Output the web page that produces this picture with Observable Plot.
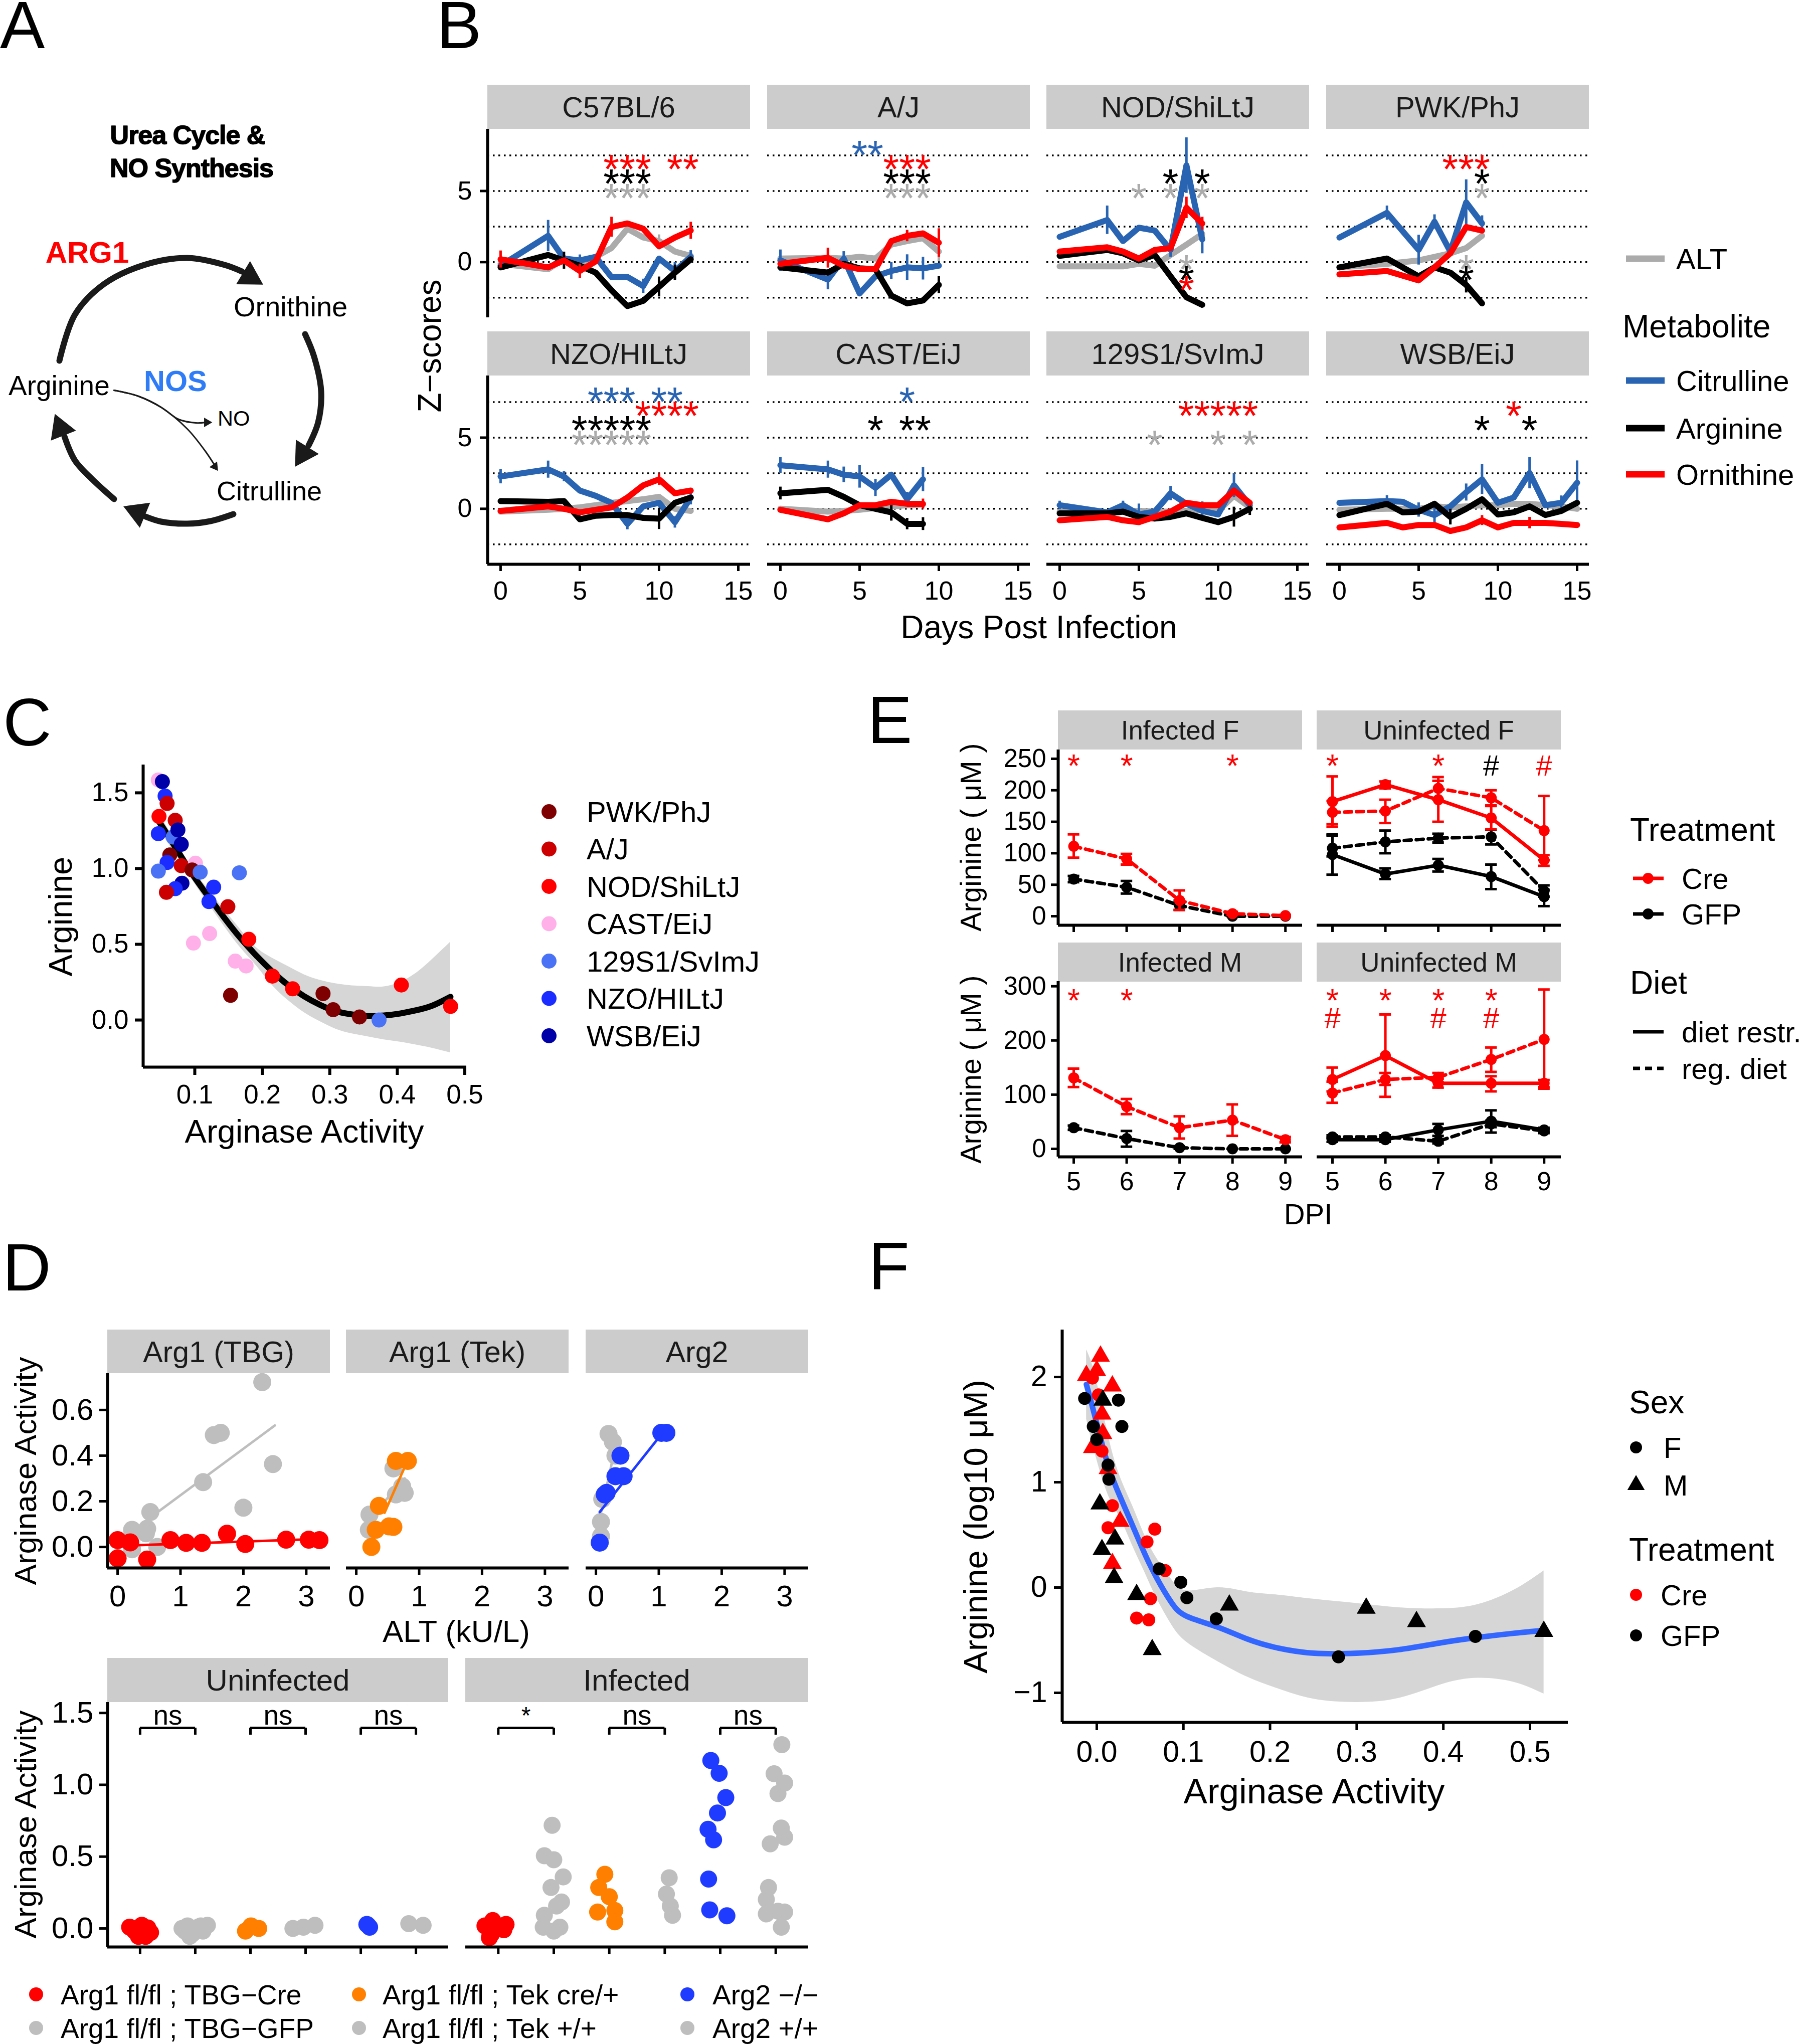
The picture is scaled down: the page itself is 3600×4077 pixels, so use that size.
<!DOCTYPE html>
<html><head><meta charset="utf-8">
<script src="https://cdn.jsdelivr.net/npm/d3@7"></script>
<script src="https://cdn.jsdelivr.net/npm/@observablehq/plot@0.6"></script>
<style>
html,body{margin:0;padding:0;background:#fff;}
#root{position:relative;width:3600px;height:4077px;overflow:hidden;background:#fff;}
#root svg{position:absolute;max-width:none;}
</style></head><body><div id="root"></div>
<script>
const FONT = '"Liberation Sans", Arial, Helvetica, sans-serif';

// ================= Panel A: diagram geometry =================
const aArcs = [
  [[118,719],[149,627],[207,566],[287,528],[373,514],[448,528],[482,541]],
  [[608,666],[626,711],[640,780],[634,842],[615,888]],
  [[465,1025],[419,1039],[373,1044],[321,1040],[290,1030]],
  [[227,995],[184,956],[149,918],[128,870]]
];
const aThin = [
  [[227,778],[276,790],[321,812],[356,836],[390,843],[410,842]],
  [[227,778],[276,790],[321,812],[373,855],[408,898],[428,928]]
];
const aHeadX = [497.7,604.3,274.3,120.3], aHeadY = [551.3,904,1021.3,854], aHeadRot = [121,212,-67.5,-21.6];
const aSmallX = [412,428], aSmallY = [842,930], aSmallRot = [90,144];

// ================= Panel B data =================
const bStrains = ["C57BL/6","A/J","NOD/ShiLtJ","PWK/PhJ","NZO/HILtJ","CAST/EiJ","129S1/SvImJ","WSB/EiJ"];
const bDays = [
  [0,3,4,5,6,7,8,9,10,11,12],
  [0,3,4,5,6,7,8,9,10],
  [0,3,4,5,6,7,8,9],
  [0,3,5,6,7,8,9],
  [0,3,4,5,6,7,8,9,10,11,12],
  [0,3,4,5,6,7,8,9],
  [0,3,4,5,6,7,8,9,10,11,12],
  [0,3,4,5,6,7,8,9,10,11,12,13,14,15]
];
const bCitrulline = [
  [-0.25,1.85,0.25,0.12,0.37,-1.06,-1.04,-1.68,0.25,-0.62,0.37],
  [0.12,-1.23,0.25,-2.2,-1.0,-0.62,-0.37,-0.44,-0.25],
  [1.78,2.96,1.48,2.42,2.22,0.86,6.8,1.6],
  [1.73,3.46,0.86,2.84,0.74,4.2,2.72],
  [2.27,2.77,2.27,1.28,0.91,0.42,-1.06,0.17,0.42,-0.94,0.79],
  [3.06,2.77,2.4,2.27,1.48,2.4,0.67,2.07],
  [0.25,-0.25,0.25,-0.4,-0.2,1.09,0.35,-0.15,-0.4,1.65,0.25],
  [0.42,0.54,0.49,-0.07,-0.44,0.17,1.16,2.07,0.42,0.79,2.52,0.25,0.42,1.83]
];
const bArginine = [
  [-0.37,0.5,0.12,-0.25,-0.74,-1.98,-3.09,-2.72,-1.73,-0.74,0.2],
  [-0.37,-0.74,-0.12,-0.44,-0.5,-2.35,-2.9,-2.7,-1.6],
  [0.44,0.86,0.62,0.12,0.5,-1.0,-2.47,-3.0],
  [-0.37,0.25,-1.0,-0.37,-0.74,-1.6,-2.9],
  [0.54,0.49,0.54,-0.74,-0.49,-0.44,-0.44,-0.64,-0.69,0.42,0.79],
  [1.09,1.33,0.84,0.25,0,-0.25,-1.06,-1.06],
  [-0.32,-0.32,-0.2,-0.57,-0.69,-0.57,-0.32,-0.64,-0.94,-0.57,0],
  [-0.44,0.35,-0.25,-0.2,0.35,-0.57,0,0.67,-0.4,-0.25,0.17,-0.44,-0.15,0.42]
];
const bOrnithine = [
  [0.2,-0.37,0.12,-0.62,0.05,2.47,2.72,2.35,1.11,1.73,2.22],
  [-0.12,0.3,-0.25,-0.5,-0.5,1.48,1.85,2.02,1.36],
  [0.74,1.04,0.74,0.25,0.86,0.99,3.83,2.72],
  [-0.86,-0.62,-1.28,-0.37,0.62,2.47,2.22],
  [-0.15,0.17,0,-0.25,-0.07,0.1,0.79,1.65,2.07,1.09,1.28],
  [-0.07,-0.74,-0.32,0.25,0.25,0.49,0.35,0.35],
  [-0.81,-0.57,-0.81,-0.94,-0.57,-0.2,0.42,0.25,0.25,1.28,0.42],
  [-1.31,-0.99,-1.31,-1.14,-1.14,-1.56,-1.31,-0.81,-1.31,-0.99,-0.99,-0.99,-1.06,-1.14]
];
const bALT = [
  [-0.12,-0.5,0.25,-0.12,0.37,0.99,2.35,1.73,1.48,0.74,0.44],
  [0.25,0.3,0.25,0.37,0.25,1.23,1.48,1.68,0.74],
  [-0.3,-0.3,-0.3,-0.12,-0.25,0.5,1.23,1.98],
  [-0.37,-0.12,0.12,0.37,0.62,0.99,1.85],
  [-0.2,-0.07,0,0.1,0.25,0.42,0.54,0.67,0.84,0,-0.15],
  [0,-0.2,-0.15,-0.07,0.05,0.17,0.25,0.3],
  [-0.2,-0.32,-0.2,-0.15,-0.2,-0.2,-0.15,-0.07,-0.15,0.91,0.1],
  [-0.07,0,0,0,0.17,0.1,0.17,0.25,0.25,0.35,0.35,0.25,0.17,0]
];
// [strain, metabolite, day, half error]
const bErrors = [
  [0,"Citrulline",3,1.1],[0,"Ornithine",0,0.6],[0,"Ornithine",5,0.5],[0,"Citrulline",5,0.4],[0,"Ornithine",7,0.7],[0,"Citrulline",9,0.5],[0,"Arginine",10,0.7],[0,"Arginine",11,0.55],[0,"Citrulline",11,0.6],[0,"Ornithine",12,0.6],[0,"Citrulline",12,0.45],[0,"ALT",10,0.45],[0,"Arginine",4,0.6],
  [1,"Citrulline",0,0.75],[1,"Ornithine",3,0.7],[1,"Citrulline",3,0.7],[1,"Citrulline",4,0.5],[1,"Citrulline",7,0.6],[1,"Citrulline",8,0.9],[1,"Citrulline",9,0.8],[1,"Ornithine",10,1.0],[1,"Arginine",10,0.6],[1,"ALT",10,0.7],[1,"Ornithine",8,0.4],
  [2,"Citrulline",3,1.0],[2,"Citrulline",8,1.95],[2,"Citrulline",9,1.0],[2,"Ornithine",8,0.75],[2,"Ornithine",9,0.45],[2,"Citrulline",7,0.5],
  [3,"Citrulline",3,0.5],[3,"Citrulline",5,1.05],[3,"Citrulline",6,0.5],[3,"Citrulline",8,1.6],[3,"Citrulline",9,0.55],[3,"Arginine",8,0.55],
  [4,"Citrulline",3,0.6],[4,"Citrulline",0,0.5],[4,"Citrulline",4,0.35],[4,"Arginine",10,0.75],[4,"Citrulline",8,0.4],[4,"Citrulline",11,0.4],[4,"Ornithine",10,0.4],[4,"Citrulline",12,0.5],
  [5,"Citrulline",0,0.55],[5,"Arginine",0,0.45],[5,"Citrulline",3,0.6],[5,"Citrulline",4,0.55],[5,"Citrulline",5,0.8],[5,"Citrulline",6,0.6],[5,"Arginine",7,0.6],[5,"Arginine",8,0.4],[5,"Arginine",9,0.45],[5,"Citrulline",9,0.85],[5,"Citrulline",8,0.5],[5,"Ornithine",9,0.35],
  [6,"Citrulline",0,0.3],[6,"Citrulline",4,0.3],[6,"Citrulline",5,0.75],[6,"Citrulline",7,0.5],[6,"Citrulline",9,0.65],[6,"Citrulline",11,0.85],[6,"Arginine",11,0.7],[6,"Arginine",12,0.45],
  [7,"Citrulline",3,0.4],[7,"Citrulline",5,0.5],[7,"Citrulline",6,0.7],[7,"Arginine",7,0.55],[7,"Citrulline",8,0.6],[7,"Citrulline",9,1.05],[7,"Citrulline",12,1.1],[7,"Citrulline",14,0.5],[7,"Citrulline",15,1.55],[7,"Ornithine",9,0.35],[7,"Ornithine",12,0.4]
];
// significance stars: [strain, row, days]
const bStars = [
  [0,"Ornithine",[7,8,9,11,12]],[0,"Arginine",[7,8,9]],[0,"ALT",[7,8,9]],
  [1,"Citrulline",[5,6]],[1,"Ornithine",[7,8,9]],[1,"Arginine",[7,8,9]],[1,"ALT",[7,8,9]],
  [2,"Arginine",[7,9]],[2,"ALT",[5,7,9]],[2,"ALT low",[8]],[2,"Arginine low",[8]],[2,"Ornithine low",[8]],
  [3,"Ornithine",[7,8,9]],[3,"Arginine",[9]],[3,"ALT",[9]],[3,"ALT low",[8]],[3,"Arginine low",[8]],
  [4,"Citrulline",[6,7,8,10,11]],[4,"Ornithine",[9,10,11,12]],[4,"Arginine",[5,6,7,8,9]],[4,"ALT",[5,6,7,8,9]],
  [5,"Citrulline",[8]],[5,"Arginine",[6,8,9]],
  [6,"Ornithine",[8,9,10,11,12]],[6,"ALT",[6,10,12]],
  [7,"Ornithine",[11]],[7,"Arginine",[9,12]]
];
const bStarLevel = {"Citrulline":8.2,"Ornithine":7.22,"Arginine":6.2,"ALT":5.18,"ALT low":0.17,"Arginine low":-0.57,"Ornithine low":-1.27};
const bGrid = [-2.5,0,2.5,5,7.5];
const bMetabolites = ["ALT","Citrulline","Arginine","Ornithine"];
const bColors = {ALT:"#ababab",Citrulline:"#2964b2",Arginine:"#000000",Ornithine:"#ff0000"};

// ================= Panel C data =================
const cStrainNames = ["PWK/PhJ","A/J","NOD/ShiLtJ","CAST/EiJ","129S1/SvImJ","NZO/HILtJ","WSB/EiJ"];
const cStrainColors = ["#7f0000","#cc0000","#ff0000","#ffb0e8","#4a72f5","#1a2cff","#0000a8"];
const cStrain = ["CAST/EiJ","WSB/EiJ","NZO/HILtJ","A/J","NOD/ShiLtJ","A/J","NZO/HILtJ","129S1/SvImJ","WSB/EiJ","WSB/EiJ","PWK/PhJ","NZO/HILtJ","A/J","129S1/SvImJ","CAST/EiJ","PWK/PhJ","129S1/SvImJ","WSB/EiJ","NZO/HILtJ","A/J","NZO/HILtJ","NZO/HILtJ","129S1/SvImJ","A/J","NOD/ShiLtJ","CAST/EiJ","CAST/EiJ","CAST/EiJ","CAST/EiJ","PWK/PhJ","NOD/ShiLtJ","NOD/ShiLtJ","PWK/PhJ","PWK/PhJ","PWK/PhJ","129S1/SvImJ","NOD/ShiLtJ","NOD/ShiLtJ"];
const cArginase = [0.046,0.052,0.056,0.059,0.047,0.071,0.046,0.068,0.075,0.080,0.063,0.059,0.080,0.046,0.101,0.096,0.108,0.081,0.071,0.058,0.128,0.121,0.166,0.149,0.180,0.122,0.098,0.160,0.176,0.153,0.215,0.245,0.290,0.305,0.344,0.373,0.406,0.479];
const cArginine = [1.585,1.574,1.479,1.430,1.344,1.318,1.230,1.208,1.255,1.160,1.090,1.040,1.019,0.983,1.035,0.991,0.976,0.903,0.867,0.843,0.877,0.782,0.972,0.748,0.533,0.571,0.508,0.389,0.357,0.163,0.290,0.206,0.174,0.068,0.020,0.0,0.231,0.090];
const cFitX = [0.0463,0.0676,0.096,0.1197,0.1434,0.1671,0.1908,0.2145,0.2382,0.2619,0.2856,0.3093,0.333,0.3566,0.3803,0.404,0.4277,0.4514,0.4788];
const cFitY = [1.314,1.167,0.966,0.818,0.677,0.544,0.427,0.322,0.231,0.157,0.100,0.058,0.037,0.026,0.030,0.043,0.064,0.094,0.153];
const cFitLo = [1.26,1.12,0.925,0.77,0.62,0.48,0.36,0.23,0.13,0.05,-0.01,-0.06,-0.09,-0.11,-0.13,-0.145,-0.164,-0.185,-0.216];
const cFitHi = [1.37,1.21,1.005,0.865,0.73,0.60,0.48,0.41,0.354,0.30,0.263,0.24,0.227,0.222,0.22,0.25,0.31,0.40,0.516];

// ================= Panel D data =================
const dTopPanels = ["Arg1 (TBG)","Arg1 (Tek)","Arg2"];
const dKoColors = ["#ff0000","#ff7f00","#1f3bff"];
const dWtColor = "#bebebe";
const dTopKoALT = [[0,0,0.47,0.2,0.84,1.09,1.34,1.74,2.03,2.68,3.04,3.21],[0.63,0.82,0.36,0.31,0.59,0.24,0.52],[1.04,1.12,0.39,0.31,0.44,0.17,0.14,0.06]];
const dTopKoAct = [[0.03,-0.05,-0.055,0.02,0.03,0.018,0.018,0.058,0.013,0.032,0.032,0.03],[0.377,0.377,0.18,0.075,0.088,0.0,0.09],[0.50,0.50,0.40,0.31,0.31,0.237,0.23,0.019]];
const dTopWtALT = [[2.30,1.53,1.64,2.47,1.36,2.0,0.52,0.23,0.47,0.45,0.23,0.63],[0.21,0.2,0.59,0.73,0.77,0.63],[0.2,0.27,0.31,0.1,0.08,0.08]];
const dTopWtAct = [[0.722,0.49,0.50,0.363,0.284,0.172,0.153,0.075,0.08,0.06,-0.01,0.0],[0.142,0.075,0.344,0.265,0.237,0.23],[0.495,0.46,0.40,0.21,0.11,0.047]];
const dKoFitX = [[0,3.21],[0.45,0.77],[0.06,1.06]], dKoFitY = [[0.005,0.035],[0.15,0.35],[0.153,0.50]];
const dWtFitX = [[0.53,2.5],[0.2,0.77],[0.08,0.31]], dWtFitY = [[0.131,0.532],[0.12,0.3],[0.15,0.44]];
const dBotPanels = ["Uninfected","Infected"];
const dCatColors = ["#ff0000","#bebebe","#ff7f00","#bebebe","#1f3bff","#bebebe"];
const dBotPos = [
  [0.81,0.90,1.03,1.14,1.10,0.97,0.86,1.19, 1.76,1.86,1.95,2.05,2.14,2.22,1.90,2.10,1.81, 2.91,3.01,3.15, 3.77,3.96,4.17, 5.11,5.16,5.13, 5.87,6.13],
  [0.84,0.90,1.14,0.76,1.0,0.88,1.10, 1.97,1.83,2.0,2.17,1.95,2.14,2.05,1.83,1.81,2.11,2.0, 2.92,2.81,3.0,2.79,3.10,3.10, 4.08,4.03,4.10,4.14, 4.83,4.98,5.10,4.95,4.78,4.88,4.79,4.81,5.12, 6.11,5.97,6.16,6.04,6.10,6.16,5.90,5.87,5.83,6.04,5.83,6.16,6.10]
];
const dBotAct = [
  [0.009,-0.018,0.022,0.004,-0.055,-0.055,0,-0.028, 0,0.018,-0.037,0.009,-0.018,0.022,-0.055,0.018,-0.018, -0.018,0.018,0, 0,0.009,0.022, 0.028,0.009,0.022, 0.033,0.022],
  [-0.064,0.055,0.028,0.018,0,-0.037,-0.009, 0.718,0.506,0.478,0.359,0.285,0.184,0.156,0.092,0.009,0.009,-0.018, 0.377,0.285,0.221,0.114,0.125,0.046, 0.353,0.239,0.156,0.092, 1.169,1.080,0.911,0.804,0.69,0.617,0.344,0.129,0.088, 1.279,1.077,1.012,0.939,0.699,0.635,0.589,0.285,0.202,0.12,0.101,0.114,0.009]
];
const dPairs = [[1,2],[3,4],[5,6]];
const dSignif = [["ns","ns","ns"],["*","ns","ns"]];
const dLegendLabels = ["Arg1 fl/fl ; TBG\u2212Cre","Arg1 fl/fl ; TBG\u2212GFP","Arg1 fl/fl ; Tek cre/+","Arg1 fl/fl ; Tek +/+","Arg2 \u2212/\u2212","Arg2 +/+"];

// ================= Panel E data =================
const eDPI = [5,6,7,8,9];
const ePanels = ["Infected F","Uninfected F","Infected M","Uninfected M"];
const eSeriesPanel = [0,0, 1,1,1,1, 2,2, 3,3,3,3];
const eSeriesTreat = ["GFP","Cre","GFP","GFP","Cre","Cre","GFP","Cre","GFP","GFP","Cre","Cre"];
const eSeriesDiet = ["reg","reg","restr","reg","restr","reg","reg","reg","restr","reg","restr","reg"];
const eSeriesMean = [
  [59,46,17,0,0],[111,91,25,4,1],
  [98,67,81,63,31],[108,118,124,126,40],[182,209,185,156,89],[165,167,203,188,136],
  [39,19,2,0,0],[131,78,39,53,17],
  [17,17,35,51,35],[22,22,14,46,33],[128,172,121,121,121],[103,128,132,165,202]
];
const eSeriesLo = [
  [54,36,10,0,0],[93,82,10,2,0],
  [66,59,71,43,16],[95,100,117,114,31],[142,203,150,138,80],[146,148,185,176,89],
  [35,4,0,0,0],[114,64,19,24,12],
  [13,13,24,30,31],[19,19,10,40,29],[106,96,113,106,111],[85,118,123,142,114]
];
const eSeriesHi = [
  [64,56,25,1,1],[130,99,41,7,2],
  [130,76,91,82,42],[128,136,131,137,49],[222,214,215,175,97],[183,185,221,200,191],
  [43,33,5,0,0],[148,92,60,82,22],
  [21,21,46,71,39],[25,25,18,52,37],[150,248,129,134,127],[124,140,140,187,294]
];
// [panel, symbol, colour, dpi]
const eAnnot = [
  [0,"*","#ff0000",[5,6,8]],[1,"*","#ff0000",[5,7]],[1,"#","#000000",[8]],[1,"#","#ff0000",[9]],
  [2,"*","#ff0000",[5,6]],[3,"*","#ff0000",[5,6,7,8]],[3,"#","#ff0000",[5,7,8]]
];
const eAnnotLevel = [{"*":250,"#":238},{"*":287,"#":240}];

// ================= Panel F data =================
const fActivity = [-0.014,0.025,-0.004,0.029,0,0.013,0.014,0.072,0.097,0.104,0.138,0.279,0.437,
  0.007,0.0036,0.021,0.006,0.02,0.046,0.153,0.064,0.311,0.369,0.516,
  0.0043,-0.012,0.018,0.006,0.007,-0.005,0.013,0.027,0.018,0.0,
  -0.005,0.002,0.006,0.018,0.013,0.067,0.058,0.079,0.062,0.046,0.06];
const fArginine = [1.796,1.780,1.530,1.530,1.406,1.163,1.029,0.177,0.05,-0.097,-0.297,-0.658,-0.464,
  1.78,0.794,0.46,0.36,0.093,-0.067,-0.167,-0.59,-0.197,-0.324,-0.417,
  2.198,2.014,1.914,1.647,1.463,1.329,1.129,0.628,0.227,2.06,
  1.99,1.83,1.296,0.778,0.568,0.555,0.434,0.161,-0.106,-0.29,-0.307];
const fSex = ["F","F","F","F","F","F","F","F","F","F","F","F","F",
  "M","M","M","M","M","M","M","M","M","M","M",
  "M","M","M","M","M","M","M","M","M","M",
  "F","F","F","F","F","F","F","F","F","F","F"];
const fTreatment = ["GFP","GFP","GFP","GFP","GFP","GFP","GFP","GFP","GFP","GFP","GFP","GFP","GFP",
  "GFP","GFP","GFP","GFP","GFP","GFP","GFP","GFP","GFP","GFP","GFP",
  "Cre","Cre","Cre","Cre","Cre","Cre","Cre","Cre","Cre","Cre",
  "Cre","Cre","Cre","Cre","Cre","Cre","Cre","Cre","Cre","Cre","Cre"];
const fFitX = [-0.012,-0.0013,0.013,0.027,0.041,0.055,0.069,0.086,0.104,0.139,0.174,0.209,0.251,0.30,0.349,0.398,0.44,0.482,0.516];
const fFitY = [1.93,1.6,1.163,0.862,0.595,0.328,0.094,-0.14,-0.274,-0.374,-0.49,-0.574,-0.624,-0.624,-0.59,-0.524,-0.474,-0.434,-0.407];
const fFitHi = [2.26,2.0,1.45,1.05,0.78,0.5,0.28,0.08,-0.03,0.0,-0.04,-0.07,-0.11,-0.15,-0.19,-0.2,-0.16,-0.02,0.16];
const fFitLo = [1.6,1.25,0.88,0.66,0.4,0.15,-0.1,-0.35,-0.52,-0.7,-0.85,-0.96,-1.06,-1.09,-1.05,-0.92,-0.86,-0.9,-1.01];

// ================= helpers =================
const root = document.getElementById("root");
const ov = d3.select(root).append("svg").attr("width",3600).attr("height",4077)
  .style("left","0px").style("top","0px").attr("font-family",FONT);
function T(str, x, y, size, o = {}) {
  const t = ov.append("text").text(str).attr("font-size", size).attr("fill", o.fill || "#000")
    .attr("text-anchor", o.anchor || "start").attr("font-weight", o.weight || "normal");
  if (o.ls) t.attr("letter-spacing", o.ls);
  if (o.stroke) t.attr("stroke", o.fill || "#000").attr("stroke-width", o.stroke).attr("stroke-linejoin", "round");
  const yy = o.baseline ? y : y + 0.358 * size;
  if (o.rotate) t.attr("text-anchor","middle").attr("transform", `translate(${x + 0.358*size},${y}) rotate(-90)`);
  else t.attr("x", x).attr("y", yy);
  return t;
}
function strip(label, x, y, w, h, size) {
  ov.append("rect").attr("x",x).attr("y",y).attr("width",w).attr("height",h).attr("fill","#cccccc");
  T(label, x + w/2, y + h/2, size, {anchor:"middle", fill:"#1a1a1a"});
}
function runs(days) { // group consecutive days into runs
  const out = []; let cur = [days[0]];
  for (let k = 1; k < days.length; k++) {
    if (days[k] - days[k-1] === 1) cur.push(days[k]); else { out.push(cur); cur = [days[k]]; }
  }
  out.push(cur); return out;
}
const M = 120;
function put(fx, fy, fw, fh, opts) {
  const svg = Plot.plot({
    width: fw + 2*M, height: fh + 2*M, margin: M,
    style: {fontFamily: FONT, background: "transparent", overflow: "visible", color: "#000"},
    ...opts
  });
  svg.style.left = (fx - M) + "px"; svg.style.top = (fy - M) + "px";
  root.appendChild(svg);
  return svg;
}

// ================= Panel A =================
{
  const arcs = aArcs.flatMap((a, i) => a.map(p => ({id: i, x: p[0], y: p[1]})));
  const thin = aThin.flatMap((a, i) => a.map(p => ({id: i, x: p[0], y: p[1]})));
  const heads = aHeadX.map((x, i) => ({x, y: aHeadY[i], a: aHeadRot[i]}));
  const small = aSmallX.map((x, i) => ({x, y: aSmallY[i], a: aSmallRot[i]}));
  const svg = Plot.plot({
    width: 900, height: 1250, margin: 0,
    x: {type: "identity", axis: null}, y: {type: "identity", axis: null},
    style: {background: "transparent", overflow: "visible"},
    marks: [
      Plot.line(arcs, {x: "x", y: "y", z: "id", curve: "catmull-rom", stroke: "#1a1a1a", strokeWidth: 12, strokeLinecap: "round"}),
      Plot.line(thin, {x: "x", y: "y", z: "id", curve: "catmull-rom", stroke: "#1a1a1a", strokeWidth: 3}),
      Plot.dot(heads, {x: "x", y: "y", rotate: "a", symbol: "triangle", r: 20, fill: "#1a1a1a", stroke: "none"}),
      Plot.dot(small, {x: "x", y: "y", rotate: "a", symbol: "triangle", r: 7, fill: "#1a1a1a", stroke: "none"})
    ]
  });
  svg.style.left = "0px"; svg.style.top = "0px";
  root.appendChild(svg);
  T("Urea Cycle &", 374, 287, 52, {anchor:"middle", weight:"bold", baseline:true, ls:-1, stroke:1.6});
  T("NO Synthesis", 382, 353, 52, {anchor:"middle", weight:"bold", baseline:true, ls:-1, stroke:1.6});
  T("ARG1", 174, 524, 60, {anchor:"middle", weight:"bold", fill:"#ff0000", baseline:true});
  T("Ornithine", 466, 631, 56, {baseline:true});
  T("Arginine", 17, 788, 55, {baseline:true});
  T("NOS", 287, 780, 58, {weight:"bold", fill:"#2e7cf6", baseline:true});
  T("NO", 434, 849, 43, {baseline:true});
  T("Citrulline", 432, 998, 54, {baseline:true});
}

// ================= Panel B =================
{
  const colX = [972, 1530, 2087, 2645], rowY = [257, 749], W = 524, H = 376;
  const xDom = [-0.82, 15.76], yDom = [-3.9, 9.35];
  const pxPerDay = W / (xDom[1] - xDom[0]);
  const starSize = 82, starLS = pxPerDay - 0.389 * starSize;
  const series = {ALT: bALT, Citrulline: bCitrulline, Arginine: bArginine, Ornithine: bOrnithine};
  bStrains.forEach((s, i) => {
    const col = i % 4, row = Math.floor(i / 4);
    strip(s, colX[col], row === 0 ? 169 : 661, W, 88, 58);
    const marks = [Plot.ruleY(bGrid, {stroke: "#000", strokeWidth: 3.5, strokeDasharray: "3.5,7.5"})];
    for (const m of bMetabolites) {
      const pts = bDays[i].map((d, k) => ({day: d, z: series[m][i][k]}));
      marks.push(Plot.line(pts, {x: "day", y: "z", stroke: bColors[m], strokeWidth: 12, strokeLinejoin: "round"}));
      const errs = bErrors.filter(e => e[0] === i && e[1] === m).map(e => {
        const k = bDays[i].indexOf(e[2]); const v = series[m][i][k];
        return {day: e[2], lo: v - e[3], hi: v + e[3]};
      });
      marks.push(Plot.ruleX(errs, {x: "day", y1: "lo", y2: "hi", stroke: bColors[m], strokeWidth: 5}));
    }
    const stars = bStars.filter(t => t[0] === i).flatMap(t => runs(t[2]).map(r => ({
      day: (r[0] + r[r.length - 1]) / 2, y: bStarLevel[t[1]], c: bColors[t[1].split(" ")[0]], s: "*".repeat(r.length)
    })));
    marks.push(Plot.text(stars, {x: "day", y: "y", text: "s", fill: "c", fontSize: starSize, dy: 0.255 * starSize, dx: starLS / 2, ariaLabel: "stars"}));
    const opts = {x: {domain: xDom, label: null}, y: {domain: yDom, label: null}, color: {type: "identity"}};
    if (col === 0) {
      marks.push(Plot.ruleX([xDom[0]], {stroke: "#000", strokeWidth: 6}));
      marks.push(Plot.axisY({ticks: [0, 5], tickSize: 15, tickPadding: 16, fontSize: 52, strokeWidth: 5, label: null}));
    } else opts.y.axis = null;
    if (row === 1) {
      marks.push(Plot.ruleY([yDom[0]], {stroke: "#000", strokeWidth: 6}));
      marks.push(Plot.axisX({ticks: [0, 5, 10, 15], tickSize: 14, tickPadding: 20, fontSize: 52, strokeWidth: 5, label: null}));
    } else opts.x.axis = null;
    const svg = put(colX[col], rowY[row], W, H, {...opts, marks});
    d3.select(svg).selectAll('g[aria-label="stars"] text').attr("letter-spacing", starLS);
  });
  T("Z\u2212scores", 856, 690, 64, {rotate: true});
  T("Days Post Infection", 2072, 1250, 64, {anchor: "middle"});
  // legend
  ov.append("line").attr("x1",3243).attr("x2",3320).attr("y1",516).attr("y2",516).attr("stroke",bColors.ALT).attr("stroke-width",13);
  T("ALT", 3343, 516, 58);
  T("Metabolite", 3236, 650, 64);
  [["Citrulline",759],["Arginine",854],["Ornithine",946]].forEach(([m, y]) => {
    ov.append("line").attr("x1",3243).attr("x2",3320).attr("y1",y).attr("y2",y).attr("stroke",bColors[m]).attr("stroke-width",13);
    T(m, 3343, y, 58);
  });
}

// ================= Panel C =================
{
  const xDom = [0.0235, 0.5026], yDom = [-0.311, 1.685];
  const pts = cArginase.map((x, i) => ({x, y: cArginine[i], c: cStrainColors[cStrainNames.indexOf(cStrain[i])]}));
  const fit = cFitX.map((x, i) => ({x, y: cFitY[i], lo: cFitLo[i], hi: cFitHi[i]}));
  put(285, 1525, 645, 603, {
    x: {domain: xDom, label: null}, y: {domain: yDom, label: null}, color: {type: "identity"},
    marks: [
      Plot.areaY(fit, {x: "x", y1: "lo", y2: "hi", fill: "#d6d6d6", curve: "natural"}),
      Plot.line(fit, {x: "x", y: "y", stroke: "#000", strokeWidth: 12, curve: "natural"}),
      Plot.dot(pts, {x: "x", y: "y", r: 15, fill: "c"}),
      Plot.ruleX([xDom[0]], {stroke: "#000", strokeWidth: 6}),
      Plot.ruleY([yDom[0]], {stroke: "#000", strokeWidth: 6}),
      Plot.axisX({ticks: [0.1,0.2,0.3,0.4,0.5], tickFormat: ".1f", tickSize: 16, tickPadding: 19, fontSize: 53, strokeWidth: 6, label: null}),
      Plot.axisY({ticks: [0,0.5,1,1.5], tickFormat: ".1f", tickSize: 16, tickPadding: 13, fontSize: 53, strokeWidth: 6, label: null})
    ]
  });
  T("Arginine", 120, 1828, 65, {rotate: true});
  T("Arginase Activity", 607, 2256, 65, {anchor: "middle"});
  cStrainNames.forEach((s, i) => {
    const y = 1619 + i * 74.5;
    ov.append("circle").attr("cx",1095).attr("cy",y).attr("r",15).attr("fill",cStrainColors[i]);
    T(s, 1170, y, 58);
  });
}

// ================= Panel D =================
{
  const topX = [214, 690, 1168], W = 444, topY = 2739, H = 388;
  const xDom = [-0.16, 3.38], yDom = [-0.092, 0.76];
  dTopPanels.forEach((p, i) => {
    strip(p, topX[i], 2652, W, 87, 59);
    const wt = dTopWtALT[i].map((x, k) => ({x, y: dTopWtAct[i][k]}));
    const ko = dTopKoALT[i].map((x, k) => ({x, y: dTopKoAct[i][k]}));
    const wtFit = dWtFitX[i].map((x, k) => ({x, y: dWtFitY[i][k]}));
    const koFit = dKoFitX[i].map((x, k) => ({x, y: dKoFitY[i][k]}));
    const marks = [
      Plot.dot(wt, {x: "x", y: "y", r: 18, fill: dWtColor}),
      Plot.line(wtFit, {x: "x", y: "y", stroke: dWtColor, strokeWidth: 5}),
      Plot.dot(ko, {x: "x", y: "y", r: 18, fill: dKoColors[i]}),
      Plot.line(koFit, {x: "x", y: "y", stroke: dKoColors[i], strokeWidth: 5}),
      Plot.ruleY([yDom[0]], {stroke: "#000", strokeWidth: 6}),
      Plot.axisX({ticks: [0,1,2,3], tickFormat: "d", tickSize: 14, tickPadding: 20, fontSize: 60, strokeWidth: 5, label: null})
    ];
    const opts = {x: {domain: xDom, label: null}, y: {domain: yDom, label: null}};
    if (i === 0) {
      marks.push(Plot.ruleX([xDom[0]], {stroke: "#000", strokeWidth: 6}));
      marks.push(Plot.axisY({ticks: [0,0.2,0.4,0.6], tickFormat: ".1f", tickSize: 16, tickPadding: 12, fontSize: 60, strokeWidth: 5, label: null}));
    } else opts.y.axis = null;
    put(topX[i], topY, W, H, {...opts, marks});
  });
  T("Arginase Activity", 50, 2934, 62, {rotate: true});
  T("ALT (kU/L)", 910, 3253, 62, {anchor: "middle"});

  const botX = [214, 928], botW = [680, 684], botY = 3395, botH = 488;
  const bx = [0.41, 6.59], by = [-0.129, 1.574];
  dBotPanels.forEach((p, i) => {
    strip(p, botX[i], 3307, botW[i], 88, 60);
    const pts = dBotPos[i].map((x, k) => ({x, y: dBotAct[i][k], c: dCatColors[Math.round(x) - 1]}));
    const br = dPairs.map((pr, k) => ({a: pr[0], b: pr[1], t: dSignif[i][k]}));
    const marks = [
      Plot.dot(pts, {x: "x", y: "y", r: 17, fill: "c"}),
      Plot.ruleY(br, {x1: "a", x2: "b", y: () => 1.396, stroke: "#000", strokeWidth: 5}),
      Plot.ruleX(br, {x: "a", y1: () => 1.347, y2: () => 1.396, stroke: "#000", strokeWidth: 5}),
      Plot.ruleX(br, {x: "b", y1: () => 1.347, y2: () => 1.396, stroke: "#000", strokeWidth: 5}),
      Plot.text(br.filter(d => d.t === "ns"), {x: d => (d.a + d.b) / 2, y: () => 1.48, text: "t", fontSize: 55}),
      Plot.text(br.filter(d => d.t === "*"), {x: d => (d.a + d.b) / 2, y: () => 1.52, text: "t", fontSize: 48, dy: 12}),
      Plot.ruleY([by[0]], {stroke: "#000", strokeWidth: 6}),
      Plot.axisX({ticks: [1,2,3,4,5,6], tickFormat: () => "", tickSize: 15, strokeWidth: 5, label: null})
    ];
    const opts = {x: {domain: bx, label: null}, y: {domain: by, label: null}, color: {type: "identity"}};
    if (i === 0) {
      marks.push(Plot.ruleX([bx[0]], {stroke: "#000", strokeWidth: 6}));
      marks.push(Plot.axisY({ticks: [0,0.5,1,1.5], tickFormat: ".1f", tickSize: 16, tickPadding: 12, fontSize: 60, strokeWidth: 5, label: null}));
    } else opts.y.axis = null;
    put(botX[i], botY, botW[i], botH, {...opts, marks});
  });
  T("Arginase Activity", 50, 3639, 62, {rotate: true});
  const legX = [[72,121],[716,763],[1371,1421]], legY = [3978, 4045];
  const legC = [dKoColors[0], dWtColor, dKoColors[1], dWtColor, dKoColors[2], dWtColor];
  dLegendLabels.forEach((l, i) => {
    const c = Math.floor(i / 2), r = i % 2;
    ov.append("circle").attr("cx", legX[c][0]).attr("cy", legY[r]).attr("r", 14).attr("fill", legC[i]);
    T(l, legX[c][1], legY[r], 55);
  });
}

// ================= Panel E =================
{
  const eXs = [2110, 2626], eYs = [1495, 1957], W = 487, H = 350;
  const xDom = [4.706, 9.32];
  const yDoms = [[-14.3, 264.3], [-14.8, 309]];
  const yTicks = [[0,50,100,150,200,250],[0,100,200,300]];
  const cap = 0.11;
  ePanels.forEach((p, pi) => {
    const col = pi % 2, row = Math.floor(pi / 2);
    strip(p, eXs[col], row === 0 ? 1417 : 1880, W, 78, 53);
    const marks = [];
    eSeriesPanel.forEach((sp, si) => {
      if (sp !== pi) return;
      const c = eSeriesTreat[si] === "Cre" ? "#ff0000" : "#000000";
      const pts = eDPI.map((d, k) => ({d, v: eSeriesMean[si][k], lo: eSeriesLo[si][k], hi: eSeriesHi[si][k]}));
      marks.push(Plot.line(pts, {x: "d", y: "v", stroke: c, strokeWidth: 7, ...(eSeriesDiet[si] === "reg" ? {strokeDasharray: "14,10"} : {})}));
      marks.push(Plot.ruleX(pts, {x: "d", y1: "lo", y2: "hi", stroke: c, strokeWidth: 5}));
      marks.push(Plot.ruleY(pts, {y: "lo", x1: d => d.d - cap, x2: d => d.d + cap, stroke: c, strokeWidth: 5}));
      marks.push(Plot.ruleY(pts, {y: "hi", x1: d => d.d - cap, x2: d => d.d + cap, stroke: c, strokeWidth: 5}));
      marks.push(Plot.dot(pts, {x: "d", y: "v", r: 11, fill: c}));
    });
    const ann = eAnnot.filter(a => a[0] === pi).flatMap(a => a[3].map(d => ({d, s: a[1], c: a[2], y: eAnnotLevel[row][a[1]]})));
    marks.push(Plot.text(ann.filter(a => a.s === "*"), {x: "d", y: "y", text: "s", fill: "c", fontSize: 64, dy: 16}));
    marks.push(Plot.text(ann.filter(a => a.s === "#"), {x: "d", y: "y", text: "s", fill: "c", fontSize: 58}));
    marks.push(Plot.ruleY([yDoms[row][0]], {stroke: "#000", strokeWidth: 6}));
    marks.push(Plot.axisX({ticks: eDPI, tickFormat: row === 1 ? "d" : () => "", tickSize: 14, tickPadding: 16, fontSize: 52, strokeWidth: 5, label: null}));
    const opts = {x: {domain: xDom, label: null}, y: {domain: yDoms[row], label: null}, color: {type: "identity"}};
    if (col === 0) {
      marks.push(Plot.ruleX([xDom[0]], {stroke: "#000", strokeWidth: 6}));
      marks.push(Plot.axisY({ticks: yTicks[row], tickFormat: "d", tickSize: 14, tickPadding: 10, fontSize: 51, strokeWidth: 5, label: null}));
    } else opts.y.axis = null;
    put(eXs[col], eYs[row], W, H, {...opts, marks});
  });
  T("Arginine ( \u03bcM )", 1936, 1670, 57, {rotate: true});
  T("Arginine ( \u03bcM )", 1936, 2133, 57, {rotate: true});
  T("DPI", 2609, 2421, 58, {anchor: "middle"});
  T("Treatment", 3251, 1654, 64);
  [["Cre","#ff0000",1752],["GFP","#000000",1823]].forEach(([l, c, y]) => {
    ov.append("line").attr("x1",3257).attr("x2",3318).attr("y1",y).attr("y2",y).attr("stroke",c).attr("stroke-width",7);
    ov.append("circle").attr("cx",3287).attr("cy",y).attr("r",11).attr("fill",c);
    T(l, 3354, y, 58);
  });
  T("Diet", 3251, 1959, 64);
  [["diet restr.",2058,null],["reg. diet",2131,"14,10"]].forEach(([l, y, dash]) => {
    const ln = ov.append("line").attr("x1",3257).attr("x2",3318).attr("y1",y).attr("y2",y).attr("stroke","#000").attr("stroke-width",7);
    if (dash) ln.attr("stroke-dasharray", dash);
    T(l, 3354, y, 58);
  });
}

// ================= Panel F =================
{
  const xDom = [-0.0399, 0.544], yDom = [-1.281, 2.448];
  const pts = fActivity.map((x, i) => ({x, y: fArginine[i], s: fSex[i], t: fTreatment[i]}));
  const fit = fFitX.map((x, i) => ({x, y: fFitY[i], lo: fFitLo[i], hi: fFitHi[i]}));
  const marks = [
    Plot.areaY(fit, {x: "x", y1: "lo", y2: "hi", fill: "#d6d6d6", curve: "natural"}),
    Plot.line(fit, {x: "x", y: "y", stroke: "#3366ff", strokeWidth: 11, curve: "natural"})
  ];
  for (const t of ["Cre", "GFP"]) {
    const c = t === "Cre" ? "#ff0000" : "#000000";
    marks.push(Plot.dot(pts.filter(d => d.t === t && d.s === "F"), {x: "x", y: "y", r: 13, fill: c, symbol: "circle"}));
    marks.push(Plot.dot(pts.filter(d => d.t === t && d.s === "M"), {x: "x", y: "y", r: 14, fill: c, symbol: "triangle"}));
  }
  marks.push(Plot.ruleX([xDom[0]], {stroke: "#000", strokeWidth: 6}));
  marks.push(Plot.ruleY([yDom[0]], {stroke: "#000", strokeWidth: 6}));
  marks.push(Plot.axisX({ticks: [0,0.1,0.2,0.3,0.4,0.5], tickFormat: ".1f", tickSize: 16, tickPadding: 21, fontSize: 59, strokeWidth: 5, label: null}));
  marks.push(Plot.axisY({ticks: [-1,0,1,2], tickFormat: "d", tickSize: 16, tickPadding: 14, fontSize: 59, strokeWidth: 5, label: null}));
  put(2118, 2652, 1009, 783, {x: {domain: xDom, label: null}, y: {domain: yDom, label: null}, marks});
  T("Arginine (log10 \u03bcM)", 1945, 3045, 67, {rotate: true});
  T("Arginase Activity", 2621, 3572, 71, {anchor: "middle"});
  T("Sex", 3249, 2796, 64);
  ov.append("circle").attr("cx",3263).attr("cy",2887).attr("r",12).attr("fill","#000");
  T("F", 3318, 2887, 58);
  ov.append("path").attr("d", d3.symbol(d3.symbolTriangle, 520)()).attr("transform","translate(3263,2962)").attr("fill","#000");
  T("M", 3318, 2962, 58);
  T("Treatment", 3249, 3090, 64);
  ov.append("circle").attr("cx",3263).attr("cy",3181).attr("r",12).attr("fill","#ff0000");
  T("Cre", 3312, 3181, 58);
  ov.append("circle").attr("cx",3263).attr("cy",3262).attr("r",12).attr("fill","#000");
  T("GFP", 3312, 3262, 58);
}

// ================= panel letters =================
T("A", 0, 96, 134, {baseline: true});
T("B", 871, 96, 134, {baseline: true});
T("C", 6, 1487, 134, {baseline: true});
T("D", 5, 2574, 134, {baseline: true});
T("E", 1730, 1482, 134, {baseline: true});
T("F", 1732, 2571, 134, {baseline: true});
</script></body></html>
